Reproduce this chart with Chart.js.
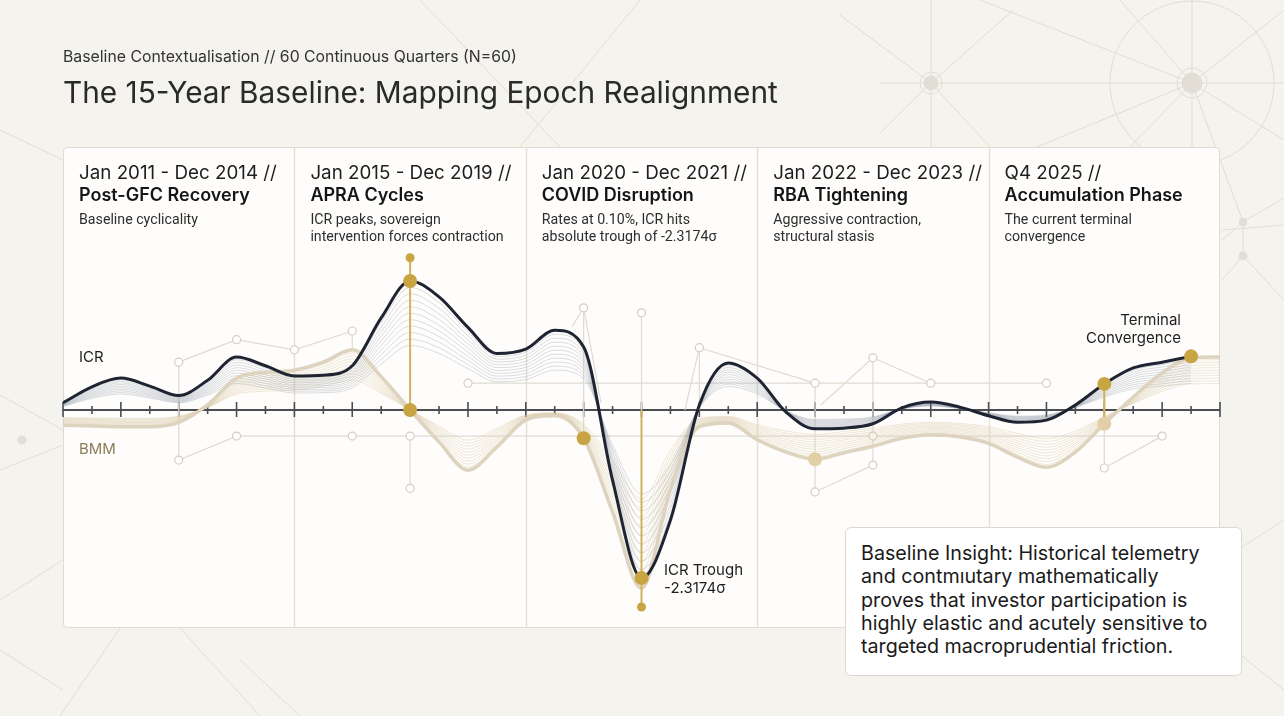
<!DOCTYPE html>
<html>
<head>
<meta charset="utf-8">
<script src="https://cdn.jsdelivr.net/npm/chart.js@4.4.1/dist/chart.umd.min.js"></script>
<style>
  html,body{margin:0;padding:0;}
  body{width:1284px;height:716px;overflow:hidden;position:relative;background:#f5f3ee;font-family:Inter,Roboto,"Noto Sans",sans-serif;color:#222;}
  .abs{position:absolute;white-space:nowrap;}
  #bg{position:absolute;left:0;top:0;z-index:0;}
  #panel{position:absolute;left:63px;top:147px;width:1155px;height:479px;background:#fefdfb;border:1.5px solid #e1dcd2;border-radius:4px;z-index:1;}
  #chartWrap{position:absolute;left:0;top:0;width:1284px;height:716px;z-index:2;}
  .txt{z-index:3;}
  .sub{font:15.8px Inter;line-height:18px;color:#333;}
  .title{font:29.8px Inter;line-height:34px;color:#2a2a2a;}
  .h1{font:18.8px Inter;line-height:22px;color:#1e1e1e;}
  .h2{font:600 18px Inter;line-height:22px;color:#151515;}
  .d{font:14.2px Roboto;line-height:17px;color:#2e2e2e;}
  .lab{font:15px Inter;line-height:18px;color:#1e1e1e;}
  #insight{position:absolute;left:845px;top:527px;width:395px;height:147px;background:#fff;border:1px solid #ddd8ce;border-radius:6px;z-index:4;}
  #insight div{position:absolute;left:15px;top:14px;font:19.7px Inter;line-height:23.3px;color:#1a1a1a;white-space:nowrap;}
</style>
</head>
<body>
<svg id="bg" width="1284" height="716" xmlns="http://www.w3.org/2000/svg">
  <g stroke="#e2ddd3" stroke-width="1" fill="none">
    <line x1="880" y1="83" x2="1284" y2="83"/>
    <line x1="931" y1="0" x2="931" y2="147"/>
    <line x1="1192" y1="0" x2="1192" y2="147"/>
    <line x1="931" y1="83" x2="1013" y2="10"/>
    <line x1="931" y1="83" x2="880" y2="133"/>
    <line x1="931" y1="83" x2="990" y2="147"/>
    <line x1="931" y1="83" x2="840" y2="15"/>
    <line x1="1192" y1="83" x2="980" y2="0"/>
    <line x1="1192" y1="83" x2="1284" y2="10"/>
    <line x1="1192" y1="83" x2="1037" y2="147"/>
    <line x1="1192" y1="83" x2="1130" y2="147"/>
    <line x1="1192" y1="83" x2="1243" y2="222"/>
    <line x1="1192" y1="83" x2="1284" y2="140"/>
    <line x1="1192" y1="83" x2="1120" y2="0"/>
    <circle cx="1192" cy="83" r="82"/>
    <line x1="1243" y1="222" x2="1243" y2="256"/>
    <line x1="1243" y1="222" x2="1284" y2="198"/>
    <line x1="1243" y1="222" x2="1222" y2="240"/>
    <line x1="1243" y1="256" x2="1284" y2="300"/>
    <line x1="1243" y1="256" x2="1222" y2="280"/>
    <line x1="1222" y1="230" x2="1284" y2="225"/>
    <line x1="1222" y1="560" x2="1284" y2="520"/>
    <line x1="1222" y1="640" x2="1284" y2="690"/>
    <line x1="0" y1="395" x2="63" y2="430"/>
    <line x1="0" y1="470" x2="63" y2="445"/>
    <line x1="0" y1="600" x2="63" y2="560"/>
    <line x1="0" y1="650" x2="63" y2="690"/>
    <line x1="120" y1="628" x2="60" y2="716"/>
    <line x1="180" y1="628" x2="260" y2="716"/>
    <line x1="300" y1="716" x2="240" y2="660"/>
    <line x1="420" y1="0" x2="560" y2="147"/>
    <line x1="640" y1="0" x2="520" y2="147"/>
    <line x1="0" y1="130" x2="63" y2="160"/>
  </g>
  <g fill="#e3ded5" stroke="#e3ded5">
    <circle cx="931" cy="83" r="7"/>
    <circle cx="1192" cy="83" r="10"/>
    <circle cx="1243" cy="222" r="4"/>
    <circle cx="1243" cy="256" r="4"/>
    <circle cx="22" cy="440" r="4"/>
  </g>
  <g fill="none" stroke="#e3ded5">
    <circle cx="931" cy="83" r="11"/>
    <circle cx="1192" cy="83" r="15"/>
  </g>
</svg>

<div id="panel"></div>
<div id="chartWrap"><canvas id="c" width="1284" height="716"></canvas></div>

<div class="abs txt sub" style="left:63px;top:48px;">Baseline Contextualisation // 60 Continuous Quarters (N=60)</div>
<div class="abs txt title" style="left:63px;top:75px;">The 15-Year Baseline: Mapping Epoch Realignment</div>

<div id="heads"></div>

<div class="abs txt lab" style="left:79px;top:348px;">ICR</div>
<div class="abs txt lab" style="left:79px;top:440px;color:#8a7d5a;">BMM</div>
<div class="abs txt lab" style="left:664px;top:561px;">ICR Trough</div>
<div class="abs txt lab" style="left:664px;top:579px;">-2.3174σ</div>
<div class="abs txt lab" style="right:103px;top:311px;text-align:right;">Terminal</div>
<div class="abs txt lab" style="right:103px;top:329px;text-align:right;">Convergence</div>

<div id="insight"><div>Baseline Insight: Historical telemetry<br>and contmıutary mathematically<br>proves that investor participation is<br>highly elastic and acutely sensitive to<br>targeted macroprudential friction.</div></div>

<script>
// ---------- DATA ----------
const quarterIndex = [...Array(41).keys()];           // x positions (tick units)
const icr = [0.10,0.32,0.44,0.33,0.20,0.41,0.73,0.61,0.47,0.48,
             0.61,1.27,1.78,1.56,1.14,0.78,0.84,1.10,0.87,-0.97,
             -2.3174,-1.52,0.07,0.65,0.44,-0.03,-0.26,-0.25,-0.19,0.03,
             0.11,0.04,-0.08,-0.17,-0.14,0.07,0.36,0.58,0.66,0.74];
const bmm = [-0.21,-0.22,-0.23,-0.23,-0.17,0.07,0.44,0.52,0.55,0.66,
             0.83,0.46,0.00,-0.44,-0.83,-0.51,-0.14,-0.08,-0.39,-1.41,
             -2.46,-1.10,-0.23,-0.18,-0.41,-0.58,-0.68,-0.59,-0.50,-0.39,
             -0.34,-0.37,-0.46,-0.65,-0.79,-0.58,-0.19,0.18,0.51,0.72,0.73];
const fanFactors = [0.5,0.55,0.6,0.65,0.7,0.75,0.8,0.85,0.9,0.95];
const epochBounds = [8,16,24,32];
const epochs = [
  {range:"Jan 2011 - Dec 2014 //", name:"Post-GFC Recovery", desc:["Baseline cyclicality"], start:0},
  {range:"Jan 2015 - Dec 2019 //", name:"APRA Cycles", desc:["ICR peaks, sovereign","intervention forces contraction"], start:8},
  {range:"Jan 2020 - Dec 2021 //", name:"COVID Disruption", desc:["Rates at 0.10%, ICR hits","absolute trough of -2.3174σ"], start:16},
  {range:"Jan 2022 - Dec 2023 //", name:"RBA Tightening", desc:["Aggressive contraction,","structural stasis"], start:24},
  {range:"Q4 2025 //", name:"Accumulation Phase", desc:["The current terminal","convergence"], start:32}
];
// annotation markers (x index, value)
const peakIdx = 12, troughIdx = 20, covidIdx = 18, rbaIdx = 26, convIdx = 36, endIdx = 39;
const peakStemTop = 2.10, troughStemBottom = -2.717;
// decorative network (x index, value)
const netNodes = [[4,0.66],[6,0.97],[8,0.83],[10,1.09],[4,-0.69],[6,-0.36],[10,-0.36],[12,-0.36],[12,-1.08],
  [14,0.37],[26,0.37],[30,0.37],[34,0.37],[18,1.41],[20,1.34],[22,0.86],[28,0.72],[28,-0.36],[28,-0.76],
  [26,-1.13],[38,-0.36],[36,-0.80]];
const netLinks = [
  [[4,0.66],[6,0.97],[8,0.83],[10,1.09]],
  [[10,1.09],[10,0.83]],
  [[4,0.66],[4,-0.69],[6,-0.36],[38,-0.36]],
  [[12,-0.36],[12,-1.08]],
  [[14,0.37],[34,0.37]],
  [[17.6,1.15],[18,1.41],[18,-0.39]],
  [[18,1.41],[18.6,0.1]],
  [[20,1.34],[20,0]],
  [[21.5,0],[22,0.86],[26,0.37]],
  [[22,0.86],[22,0]],
  [[26.2,0.07],[28,0.72],[30,0.37]],
  [[28,0.72],[28,-0.76]],
  [[26,0.37],[26,-1.13],[28,-0.76]],
  [[36,0.36],[36,-0.80],[38,-0.36]]
];
const yMin = -3.007, yMax = 3.628;

// ---------- CHART ----------
const pts = arr => arr.map((v,i)=>({x:quarterIndex[i], y:v}));
const xy = arr => arr.map(p=>({x:p[0], y:p[1]}));
const GOLD = '#c9a443';

const datasets = [];
datasets.push({label:'goldDots', data:[{x:peakIdx,y:icr[peakIdx]},{x:peakIdx,y:0},{x:troughIdx,y:icr[troughIdx]},{x:covidIdx,y:bmm[covidIdx]},{x:convIdx,y:icr[convIdx]},{x:endIdx,y:icr[endIdx]}],
  showLine:false, pointRadius:7, pointBackgroundColor:GOLD, pointBorderWidth:0});
datasets.push({label:'goldSmall', data:[{x:peakIdx,y:peakStemTop},{x:troughIdx,y:troughStemBottom}],
  showLine:false, pointRadius:4.5, pointBackgroundColor:GOLD, pointBorderWidth:0});
datasets.push({label:'beigeDots', data:[{x:convIdx,y:bmm[convIdx]},{x:rbaIdx,y:bmm[rbaIdx]}],
  showLine:false, pointRadius:7, pointBackgroundColor:'#e2cfa6', pointBorderWidth:0});
[[{x:peakIdx,y:peakStemTop},{x:peakIdx,y:0}],
 [{x:troughIdx,y:0},{x:troughIdx,y:troughStemBottom}],
 [{x:convIdx,y:icr[convIdx]},{x:convIdx,y:bmm[convIdx]}]].forEach(d=>{
  datasets.push({label:'stem', data:d, borderColor:'#d2b25e', borderWidth:2, pointRadius:0, tension:0});
});
datasets.push({label:'ICR', data:pts(icr), borderColor:'#1e2431', borderWidth:3, pointRadius:0, cubicInterpolationMode:'monotone'});
datasets.push({label:'BMM', data:pts(bmm), borderColor:'#ddd3bf', borderWidth:3.5, pointRadius:0, cubicInterpolationMode:'monotone'});
fanFactors.forEach(k=>{
  datasets.push({label:'icrFan', data:pts(icr.map(v=>v*k)), borderColor:'rgba(105,115,140,0.30)', borderWidth:0.8, pointRadius:0, cubicInterpolationMode:'monotone'});
});
fanFactors.forEach(k=>{
  datasets.push({label:'bmmFan', data:pts(bmm.map(v=>v*k)), borderColor:'rgba(214,198,160,0.5)', borderWidth:0.8, pointRadius:0, cubicInterpolationMode:'monotone'});
});
datasets.push({label:'netNodes', data:xy(netNodes), showLine:false, pointRadius:4, pointBackgroundColor:'#ffffff', pointBorderColor:'#d3cec5', pointBorderWidth:1.2});
netLinks.forEach(l=>{
  datasets.push({label:'netLink', data:xy(l), borderColor:'#dfdbd3', borderWidth:1.2, pointRadius:0, tension:0});
});

const framePlugin = {
  id:'frame',
  beforeDatasetsDraw(chart){
    const {ctx, chartArea, scales:{x,y}} = chart;
    ctx.save();
    ctx.strokeStyle = '#e5e0d6'; ctx.lineWidth = 1.5;
    epochBounds.forEach(b=>{
      const px = Math.round(x.getPixelForValue(b))+0.5;
      ctx.beginPath(); ctx.moveTo(px, chartArea.top+1); ctx.lineTo(px, chartArea.bottom-1); ctx.stroke();
    });
    const y0 = y.getPixelForValue(0);
    ctx.strokeStyle = '#4a4d52'; ctx.lineWidth = 2;
    ctx.beginPath(); ctx.moveTo(x.getPixelForValue(x.min), y0); ctx.lineTo(x.getPixelForValue(x.max), y0); ctx.stroke();
    ctx.lineWidth = 1.6;
    x.ticks.forEach(t=>{
      const px = x.getPixelForValue(t.value);
      const major = t.value % 2 === 0;
      const up = major ? 8 : 4, dn = major ? 7 : 4;
      ctx.beginPath(); ctx.moveTo(px, y0-up); ctx.lineTo(px, y0+dn); ctx.stroke();
    });
    ctx.restore();
  }
};

new Chart(document.getElementById('c'), {
  type:'line',
  data:{datasets},
  options:{
    responsive:false, animation:false, devicePixelRatio:1,
    layout:{padding:{left:63, right:64, top:147, bottom:88}},
    plugins:{legend:{display:false}, tooltip:{enabled:false}},
    elements:{line:{fill:false}},
    scales:{
      x:{type:'linear', min:0, max:40, display:false, ticks:{stepSize:1}},
      y:{type:'linear', min:yMin, max:yMax, display:false}
    }
  },
  plugins:[framePlugin]
});

// ---------- EPOCH HEADERS ----------
const heads = document.getElementById('heads');
const chartLeft = 63, unit = (1220-63)/40;
epochs.forEach(e=>{
  const left = chartLeft + e.start*unit + 16;
  let html = `<div class="abs txt h1" style="left:${left}px;top:162px;">${e.range}</div>`;
  html += `<div class="abs txt h2" style="left:${left}px;top:184px;">${e.name}</div>`;
  e.desc.forEach((d,j)=>{ html += `<div class="abs txt d" style="left:${left}px;top:${210.5+j*17}px;">${d}</div>`; });
  heads.insertAdjacentHTML('beforeend', html);
});
</script>
</body>
</html>
